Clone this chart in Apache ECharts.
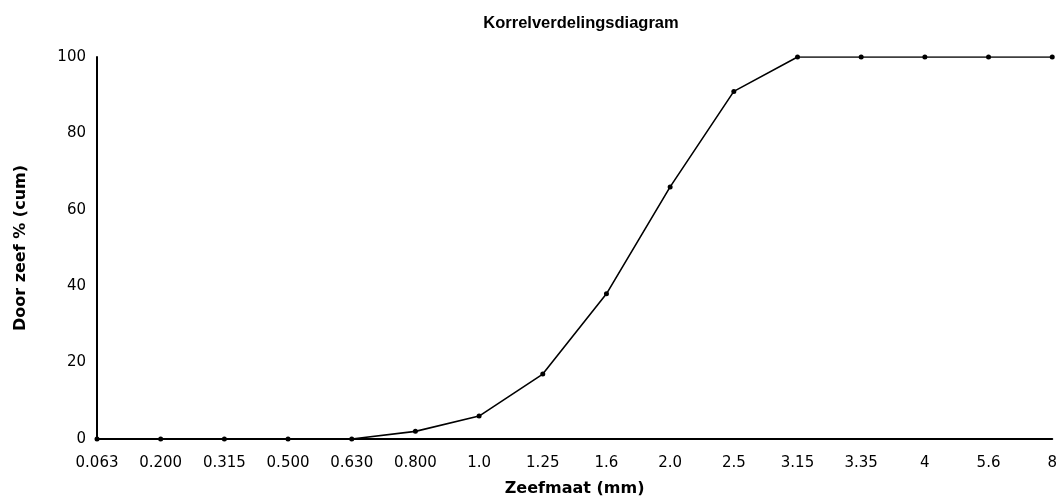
<!DOCTYPE html>
<html><head><meta charset="utf-8">
<script src="https://cdn.jsdelivr.net/npm/echarts@6/dist/echarts.min.js"></script>
<style>html,body{margin:0;padding:0;background:#fff}#c{width:1060px;height:503px}</style>
</head><body><div id="c"></div>
<script>
const sieveSizes = ['0.063','0.200','0.315','0.500','0.630','0.800','1.0','1.25','1.6','2.0','2.5','3.15','3.35','4','5.6','8'];
const passingPct = [0,0,0,0,0,2,6,17,38,66,91,100,100,100,100,100];
const yTicks = [0,20,40,60,80,100];

const chart = echarts.init(document.getElementById('c'), null, {renderer:'canvas'});
const titleFont = '"Liberation Sans", Arial, sans-serif';
const font = '"DejaVu Sans", sans-serif';
chart.setOption({
  backgroundColor:'#fff',
  animation:false,
  title:{text:'Korrelverdelingsdiagram', left:576, textAlign:'center', top:10,
    textStyle:{fontFamily:titleFont, fontSize:16.5, fontWeight:'bold', color:'#000'}},
  grid:{left:97, right:5, top:57, bottom:64},
  xAxis:{type:'category', data:sieveSizes, boundaryGap:false,
    name:'Zeefmaat (mm)', nameLocation:'middle', nameGap:42,
    nameTextStyle:{fontFamily:font, fontSize:16, fontWeight:'bold', color:'#000'},
    axisLine:{lineStyle:{color:'#000', width:2}}, axisTick:{show:false},
    axisLabel:{fontFamily:font, fontSize:15, color:'#000', margin:17, interval:0},
    splitLine:{show:false}},
  yAxis:{type:'value', min:yTicks[0], max:yTicks[yTicks.length-1], interval:20,
    name:'Door zeef % (cum)', nameLocation:'middle', nameGap:68, nameRotate:90,
    nameTextStyle:{fontFamily:font, fontSize:16, fontWeight:'bold', color:'#000'},
    axisLine:{show:true, lineStyle:{color:'#000', width:2}}, axisTick:{show:false},
    axisLabel:{fontFamily:font, fontSize:15, color:'#000', margin:11},
    splitLine:{show:false}},
  series:[{type:'line', data:passingPct, symbol:'circle', symbolSize:5,
    lineStyle:{color:'#000', width:1.6}, itemStyle:{color:'#000'}}]
});
</script></body></html>
